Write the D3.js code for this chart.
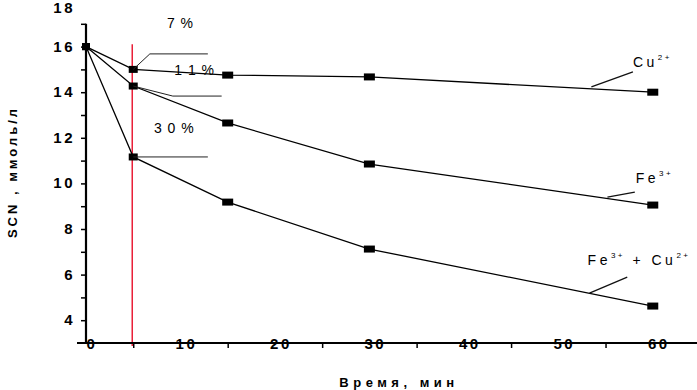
<!DOCTYPE html>
<html><head><meta charset="utf-8">
<script src="https://cdn.jsdelivr.net/npm/d3@7"></script>
<style>
html,body{margin:0;padding:0;background:#fff;}
svg{display:block;font-family:"Liberation Sans",Arial,sans-serif;}
</style></head>
<body>
<svg id="c" width="697" height="390"></svg>
<script>
// ---- data ----
const times = [0, 5, 15, 30, 60];
const cuValues = [16, 15.0, 14.75, 14.67, 14.0];
const feValues = [16, 14.27, 12.65, 10.85, 9.05];
const feCuValues = [16, 11.16, 9.18, 7.12, 4.62];
const yTickLabels = [4, 6, 8, 10, 12, 14, 16, 18];
const xTickLabels = [0, 10, 20, 30, 40, 50, 60];
const pctLabels = [
  {text: "7 %", t: 10.0, v: 16.82},
  {text: "1 1 %", t: 11.5, v: 14.75},
  {text: "3 0 %", t: 9.35, v: 12.21}
];
const pctLeaders = [
  [[5, 15.0], [6.76, 15.68], [12.9, 15.68]],
  [[5, 14.27], [9.19, 13.83], [14.36, 13.83]],
  [[5, 11.16], [12.9, 11.16]]
];
const seriesLabels = [
  {parts: [["Cu", false], ["2+", true]], t: 57.9, v: 15.1, leader: [[53.5, 14.23], [57.9, 14.89]]},
  {parts: [["Fe", false], ["3+", true]], t: 58.2, v: 10.02, leader: [[55.2, 9.4], [58.1, 9.62]]},
  {parts: [["Fe", false], ["3+", true], [" + Cu", false], ["2+", true]], t: 53.1, v: 6.42, leader: [[53.3, 5.19], [57.3, 5.89]]}
];
const redLine = {t: 5, v0: 3, v1: 16.1};

// ---- scales ----
const svg = d3.select("#c");
const x = d3.scaleLinear().domain([0, 65]).range([86, 700]);
const y = d3.scaleLinear().domain([3, 18]).range([343, 1]);

// red vertical line
svg.append("line")
  .attr("x1", x(redLine.t) - 1).attr("x2", x(redLine.t) - 1)
  .attr("y1", y(redLine.v1)).attr("y2", y(redLine.v0) + 3)
  .attr("stroke", "#e8102a").attr("stroke-width", 1.4);

// y axis
const yAxis = d3.axisLeft(y).tickValues(d3.range(4, 18)).tickSize(5).tickFormat("");
const gy = svg.append("g").attr("transform", `translate(${x(0)},0)`).call(yAxis);
gy.select(".domain").remove();
gy.selectAll(".tick line").attr("stroke", "#000").attr("stroke-width", 1.5);
svg.append("line").attr("x1", x(0)).attr("x2", x(0)).attr("y1", y(17)).attr("y2", y(3))
  .attr("stroke", "#000").attr("stroke-width", 2.2);
svg.selectAll(".ylab").data(yTickLabels).enter().append("text")
  .attr("x", 75).attr("y", d => d === 18 ? 13 : y(d) + 5)
  .attr("text-anchor", "end")
  .attr("font-size", 15).attr("font-weight", "bold").attr("letter-spacing", 2.5)
  .text(d => d);

// x axis
const xAxis = d3.axisBottom(x).tickValues(d3.range(5, 70, 10)).tickSize(5).tickFormat("");
const gx = svg.append("g").attr("transform", `translate(0,${y(3)})`).call(xAxis);
gx.select(".domain").remove();
gx.selectAll(".tick line").attr("stroke", "#000").attr("stroke-width", 1.5);
svg.append("line").attr("x1", 77).attr("x2", 697).attr("y1", y(3)).attr("y2", y(3))
  .attr("stroke", "#000").attr("stroke-width", 2);
svg.selectAll(".xlab").data(xTickLabels).enter().append("text")
  .attr("x", d => x(d) + 6).attr("y", y(3) + 6)
  .attr("text-anchor", "middle")
  .attr("font-size", 15).attr("font-weight", "bold").attr("letter-spacing", 2.5)
  .text(d => d);

// axis titles
svg.append("text").attr("x", 399).attr("y", 387).attr("text-anchor", "middle")
  .attr("font-size", 13).attr("font-weight", "bold").attr("letter-spacing", 4.5)
  .text("Время, мин");
svg.append("text").attr("transform", "translate(17,172) rotate(-90)").attr("text-anchor", "middle")
  .attr("font-size", 13).attr("font-weight", "bold").attr("letter-spacing", 3)
  .text("SCN , ммоль/л");

// series
const line = d3.line().x(d => x(d[0])).y(d => y(d[1]));
const series = [cuValues, feValues, feCuValues];
series.forEach(vals => {
  const pts = times.map((t, i) => [t, vals[i]]);
  svg.append("path").attr("d", line(pts)).attr("fill", "none")
    .attr("stroke", "#000").attr("stroke-width", 1.3);
});
series.forEach(vals => {
  svg.selectAll(null).data(times.map((t, i) => [t, vals[i]])).enter().append("rect")
    .attr("x", d => x(d[0]) - (d[0] === 0 ? 4 : d[0] === 5 ? 4.5 : 5.5))
    .attr("y", d => y(d[1]) - 3.5)
    .attr("width", d => d[0] === 0 ? 8 : d[0] === 5 ? 9 : 11).attr("height", 7)
    .attr("fill", "#000");
});

// percent leaders & labels
const leaderLine = d3.line().x(d => x(d[0])).y(d => y(d[1]));
pctLeaders.forEach(pts => {
  svg.append("path").attr("d", leaderLine(pts)).attr("fill", "none")
    .attr("stroke", "#222").attr("stroke-width", 1);
});
svg.selectAll(".pct").data(pctLabels).enter().append("text")
  .attr("x", d => x(d.t)).attr("y", d => y(d.v)).attr("text-anchor", "middle")
  .attr("font-size", 14).attr("letter-spacing", 1)
  .text(d => d.text);

// series labels
seriesLabels.forEach(s => {
  svg.append("path").attr("d", leaderLine(s.leader)).attr("fill", "none")
    .attr("stroke", "#111").attr("stroke-width", 1.3);
  const txt = svg.append("text").attr("x", x(s.t)).attr("y", y(s.v))
    .attr("font-size", 14).attr("letter-spacing", 3.5);
  let sup = false;
  s.parts.forEach(([str, isSup]) => {
    const ts = txt.append("tspan").text(str);
    if (isSup && !sup) { ts.attr("dy", -7).attr("font-size", 8).attr("letter-spacing", 2.5); sup = true; }
    else if (!isSup && sup) { ts.attr("dy", 7); sup = false; }
  });
});
</script>
</body></html>
